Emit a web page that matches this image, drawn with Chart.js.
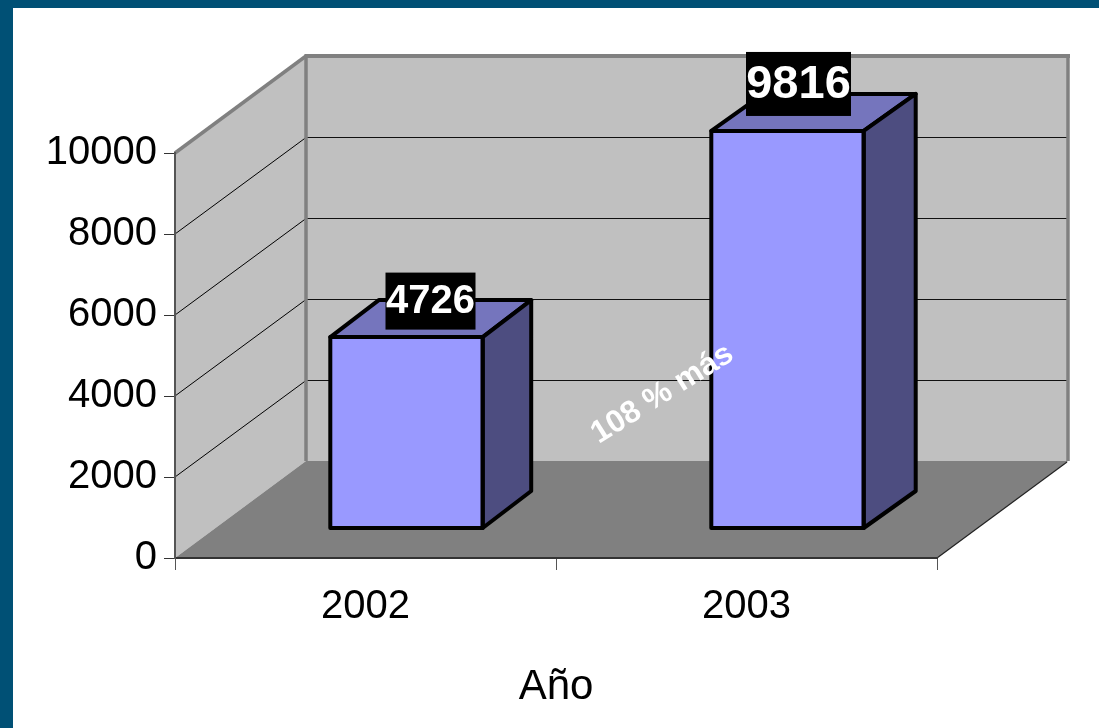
<!DOCTYPE html>
<html><head><meta charset="utf-8">
<style>html,body{margin:0;padding:0;background:#fff}#w{width:1099px;height:728px;position:relative}</style>
<script src="https://cdn.jsdelivr.net/npm/chart.js@4"></script>
</head><body><div id="w"><canvas id="c"></canvas></div>
<script>
const categories = ['2002', '2003'];
const values = [4726, 9816];
const yTickValues = [0, 2000, 4000, 6000, 8000, 10000];
const xTitle = 'Año';
const note = '108 % más';

const FONT = '"Liberation Sans", Arial, sans-serif';
const WALL_DX = 131, WALL_DY = 97;      // room depth
const BAR_DX = 41, BAR_DY = 29.5;       // bar sits inside the room
const SIDE = [{dx: 48.5, dy: 37}, {dx: 52, dy: 37}];
const LABEL = [
  {font: 40, w: 90, h: 57, ox: 24, oy: -36},
  {font: 47, w: 105, h: 64, ox: 11, oy: -47}
];

function poly(ctx, pts, fill, stroke, lw) {
  ctx.beginPath();
  pts.forEach((p, i) => i ? ctx.lineTo(p[0], p[1]) : ctx.moveTo(p[0], p[1]));
  ctx.closePath();
  if (fill) { ctx.fillStyle = fill; ctx.fill(); }
  if (stroke) { ctx.strokeStyle = stroke; ctx.lineWidth = lw; ctx.lineJoin = 'round'; ctx.stroke(); }
}
function seg(ctx, x0, y0, x1, y1, c, lw) {
  ctx.beginPath(); ctx.moveTo(x0, y0); ctx.lineTo(x1, y1);
  ctx.strokeStyle = c; ctx.lineWidth = lw; ctx.stroke();
}

const room = {
  id: 'room',
  beforeDraw(chart) {
    const {ctx, chartArea: a, scales: {y}} = chart;
    const l = a.left, r = a.right, t = y.getPixelForValue(10000), b = y.getPixelForValue(0);
    ctx.save();
    ctx.fillStyle = '#fff'; ctx.fillRect(0, 0, chart.width, chart.height);
    ctx.fillStyle = '#005075';
    ctx.fillRect(0, 0, chart.width, 8); ctx.fillRect(0, 0, 13, chart.height);
    const bl = l + WALL_DX, br = r + WALL_DX, bt = t - WALL_DY, bb = b - WALL_DY;
    poly(ctx, [[l, t], [bl, bt], [bl, bb], [l, b]], '#c0c0c0');
    poly(ctx, [[bl, bt], [br, bt], [br, bb], [bl, bb]], '#c0c0c0');
    yTickValues.forEach(v => {
      if (v === 0 || v === 10000) return;
      const p = y.getPixelForValue(v);
      const q = Math.round(p - WALL_DY) + 0.5;
      seg(ctx, l, p, bl, q, '#000', 1);
      seg(ctx, bl, q, br, q, '#111', 1);
    });
    poly(ctx, [[l, b], [r, b], [br, bb], [bl, bb]], '#808080');
    seg(ctx, l, t, bl, bt, '#808080', 3.5);
    seg(ctx, bl - 1.5, bt, br + 2, bt, '#808080', 4);
    seg(ctx, bl, bt, bl, bb, '#808080', 3.5);
    seg(ctx, br, bt, br, bb, '#808080', 3.5);
    seg(ctx, r, b, br - 1, bb + 1, '#222', 1.2);
    ctx.restore();
  }
};

const bars3d = {
  id: 'bars3d',
  beforeDatasetDraw(chart) {
    chart.ctx.save();
    chart.ctx.translate(BAR_DX, -BAR_DY);
  },
  afterDatasetDraw(chart, args) {
    const ctx = chart.ctx;
    args.meta.data.forEach((el, i) => {
      const {x, y, base, width} = el.getProps(['x', 'y', 'base', 'width'], true);
      const L = x - width / 2, R = x + width / 2, d = SIDE[i];
      poly(ctx, [[L, y], [R, y], [R + d.dx, y - d.dy], [L + d.dx, y - d.dy]], '#7575bd', '#000', 4);
      poly(ctx, [[R, y], [R + d.dx, y - d.dy], [R + d.dx, base - d.dy], [R, base]], '#4d4d80', '#000', 4);
      poly(ctx, [[L, y], [R, y], [R, base], [L, base]], null, '#000', 4);
    });
    ctx.restore();
  },
  afterDraw(chart) {
    const {ctx} = chart;
    const meta = chart.getDatasetMeta(0);
    ctx.save();
    ctx.textAlign = 'center'; ctx.textBaseline = 'middle';
    meta.data.forEach((el, i) => {
      const s = LABEL[i];
      const cx = el.x + BAR_DX + s.ox, cy = el.y - BAR_DY + s.oy;
      ctx.fillStyle = '#000';
      ctx.fillRect(cx - s.w / 2, cy - s.h / 2, s.w, s.h);
      ctx.fillStyle = '#fff';
      ctx.font = 'bold ' + s.font + 'px ' + FONT;
      ctx.fillText(String(values[i]), cx, cy + 1);
    });
    ctx.translate(662.5, 394);
    ctx.rotate(-32 * Math.PI / 180);
    ctx.font = 'bold 31.5px ' + FONT;
    ctx.fillStyle = '#fff';
    ctx.fillText(note, 0, 0);
    ctx.restore();
  }
};

new Chart(document.getElementById('c'), {
  type: 'bar',
  data: {labels: categories, datasets: [{
    data: values, backgroundColor: '#9999ff', borderWidth: 0, clip: false,
    barPercentage: 1, categoryPercentage: 0.4
  }]},
  plugins: [room, bars3d],
  options: {
    responsive: true, maintainAspectRatio: false, animation: false,
    layout: {padding: {left: 0, top: 153, right: 162, bottom: 0}},
    plugins: {legend: {display: false}, tooltip: {enabled: false}, title: {display: false}},
    scales: {
      x: {
        afterFit(s) { s.height = 170; },
        grid: {drawOnChartArea: false, drawTicks: true, tickLength: 12, color: '#555', lineWidth: 1},
        border: {display: true, color: '#333', width: 2},
        ticks: {color: '#000', padding: 13, font: {family: FONT, size: 40}, maxRotation: 0},
        title: {display: true, text: xTitle, color: '#000', font: {family: FONT, size: 42}, padding: {top: 10, bottom: 15}}
      },
      y: {
        min: 0, max: 10000,
        afterFit(s) { s.width = 175; },
        afterBuildTicks(s) { s.ticks = yTickValues.map(v => ({value: v})); },
        grid: {drawOnChartArea: false, drawTicks: true, tickLength: 11, color: '#333', lineWidth: 1},
        border: {display: true, color: '#555', width: 2},
        ticks: {color: '#000', padding: 7, font: {family: FONT, size: 40}, callback: v => String(v)}
      }
    }
  }
});
</script></body></html>
